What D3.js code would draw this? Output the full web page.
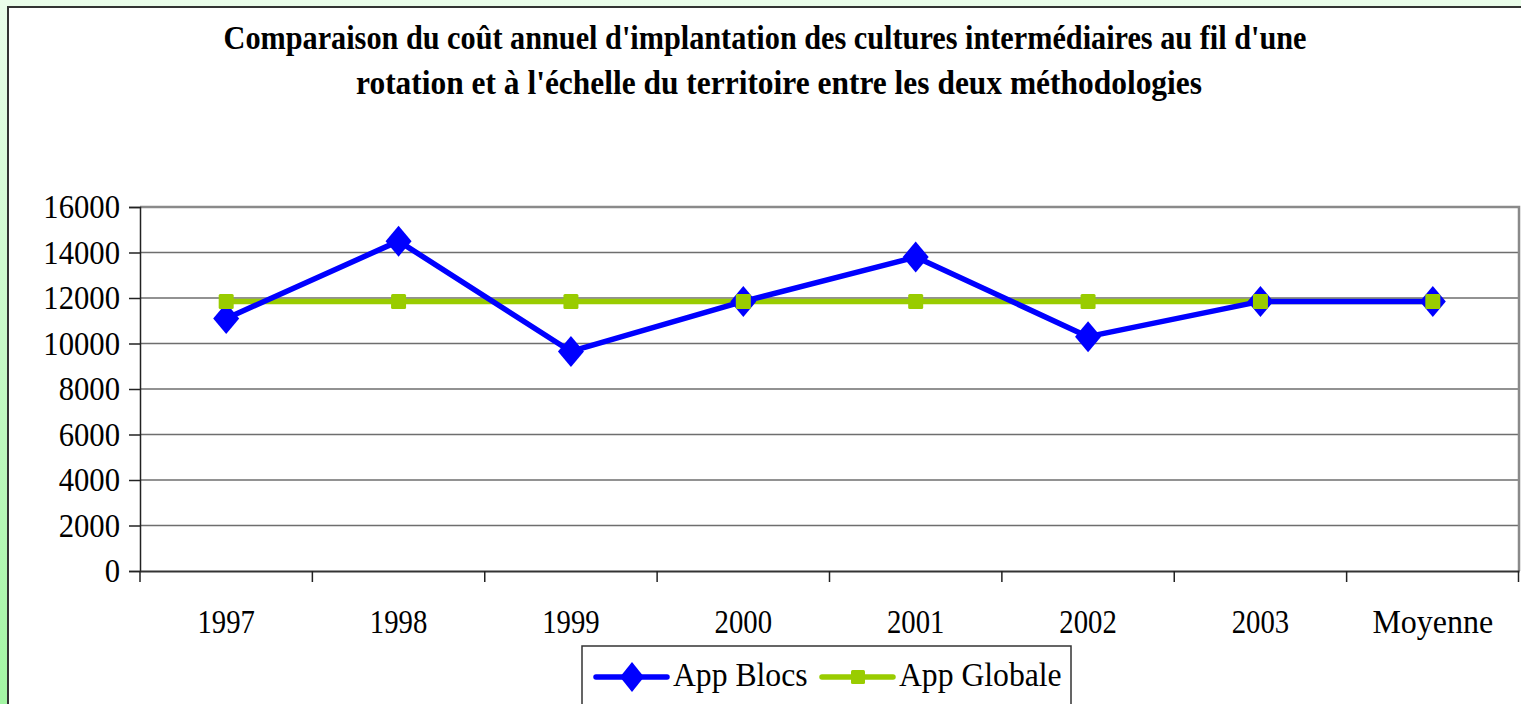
<!DOCTYPE html>
<html>
<head>
<meta charset="utf-8">
<script src="https://cdn.jsdelivr.net/npm/d3@7"></script>
<style>
  html, body { margin: 0; padding: 0; background: #fff; overflow: hidden; }
</style>
</head>
<body>
<div id="chart"></div>
<script>
// données
var annees = ["1997", "1998", "1999", "2000", "2001", "2002", "2003", "Moyenne"];
var appBlocs = [11100, 14500, 9650, 11850, 13800, 10300, 11850, 11850];
var appGlobale = [11850, 11850, 11850, 11850, 11850, 11850, 11850, 11850];
var yTicks = [0, 2000, 4000, 6000, 8000, 10000, 12000, 14000, 16000];
var titre = ["Comparaison du coût annuel d'implantation des cultures intermédiaires au fil d'une",
             "rotation et à l'échelle du territoire entre les deux méthodologies"];

var width = 1521, height = 704,
    margin = ({top: 207, right: 2, bottom: 133, left: 140});

var svg = d3.select("#chart").append("svg")
    .attr("width", width)
    .attr("height", height)
    .style("font-family", "'Liberation Serif', 'Times New Roman', serif");

var defs = svg.append("defs");
var grad = defs.append("linearGradient").attr("id", "fond")
    .attr("x1", 0).attr("y1", 0).attr("x2", 0).attr("y2", 1);
grad.append("stop").attr("offset", 0).attr("stop-color", "#eafdea");
grad.append("stop").attr("offset", 1).attr("stop-color", "#a3f5a3");

svg.append("rect").attr("width", width).attr("height", height).attr("fill", "url(#fond)");

// zone du graphique
svg.append("rect")
    .attr("x", 8).attr("y", 7)
    .attr("width", width + 20).attr("height", height + 20)
    .attr("fill", "#fff")
    .attr("stroke", "#333")
    .attr("stroke-width", 2);

// texte un peu écrasé horizontalement comme dans l'image
function txt(g, x, y, s, size, anchor, sx, weight) {
  return g.append("text")
      .attr("transform", "translate(" + x + "," + y + ") scale(" + sx + ",1)")
      .attr("font-size", size + "px")
      .attr("font-weight", weight || "normal")
      .attr("text-anchor", anchor || "middle")
      .attr("fill", "#000")
      .text(s);
}

txt(svg, 765, 49, titre[0], 34, "middle", 0.89, "bold");
txt(svg, 779, 94, titre[1], 34, "middle", 0.925, "bold");

var x = d3.scaleBand()
    .domain(annees)
    .range([margin.left, width - margin.right]);

var y = d3.scaleLinear()
    .domain([0, 16000])
    .range([height - margin.bottom, margin.top]);

var plot = svg.append("g");

// grille
plot.append("g")
  .selectAll("line")
  .data(yTicks.filter(d => d > 0 && d < 16000))
  .join("line")
    .attr("x1", margin.left).attr("x2", width - margin.right)
    .attr("y1", d => y(d)).attr("y2", d => y(d))
    .attr("stroke", "#6e6e6e")
    .attr("stroke-width", 1.5);

// cadre haut / droite
plot.append("path")
    .attr("d", "M" + margin.left + "," + y(16000) + "H" + (width - margin.right) + "V" + y(0))
    .attr("fill", "none")
    .attr("stroke", "#8a8a8a")
    .attr("stroke-width", 2.5);

// axe y
var yAxis = g => g
    .attr("transform", "translate(" + margin.left + ",0)")
    .call(d3.axisLeft(y).tickValues(yTicks).tickSize(11).tickFormat(""))
    .call(g => g.selectAll("line, path").attr("stroke", "#222").attr("stroke-width", 1.5));
plot.append("g").call(yAxis);

yTicks.forEach(function(d) {
  txt(plot, 120, y(d) + 11, d, 33, "end", 0.93);
});

// axe x
var xAxis = g => g
    .attr("transform", "translate(0," + y(0) + ")")
    .call(d3.axisBottom(x).tickSize(0).tickFormat(""))
    .call(g => g.select(".domain").attr("stroke", "#333").attr("stroke-width", 2));
plot.append("g").call(xAxis);

var bornes = annees.map(d => x(d)).concat([x.range()[1] - 0.5]);
plot.append("g")
  .selectAll("line")
  .data(bornes)
  .join("line")
    .attr("x1", d => d).attr("x2", d => d)
    .attr("y1", y(0)).attr("y2", y(0) + 11)
    .attr("stroke", "#222")
    .attr("stroke-width", 1.5);

annees.forEach(function(d) {
  var lettres = isNaN(+d);
  txt(plot, x(d) + x.bandwidth() / 2, 633, d, 33, "middle", lettres ? 0.97 : 0.87);
});

var cx = d => x(d) + x.bandwidth() / 2;

var line = d3.line()
    .x((d, i) => cx(annees[i]))
    .y(d => y(d));

var diamond = (w, h) => "M0," + (-h) + "L" + w + ",0L0," + h + "L" + (-w) + ",0Z";

// App Globale
plot.append("path")
    .datum(appGlobale)
    .attr("fill", "none")
    .attr("stroke", "#99cc00")
    .attr("stroke-width", 5.5)
    .attr("d", line);

// App Blocs
plot.append("path")
    .datum(appBlocs)
    .attr("fill", "none")
    .attr("stroke", "#0000ff")
    .attr("stroke-width", 5.5)
    .attr("stroke-linejoin", "round")
    .attr("d", line);

plot.append("g")
  .selectAll("path")
  .data(appBlocs)
  .join("path")
    .attr("transform", (d, i) => "translate(" + cx(annees[i]) + "," + y(d) + ")")
    .attr("d", diamond(13, 15.5))
    .attr("fill", "#0000ff");

plot.append("g")
  .selectAll("rect")
  .data(appGlobale)
  .join("rect")
    .attr("x", (d, i) => cx(annees[i]) - 7.5)
    .attr("y", d => y(d) - 7.5)
    .attr("width", 15).attr("height", 15)
    .attr("rx", 1.5)
    .attr("fill", "#99cc00");

// légende
var leg = svg.append("g");
leg.append("rect")
    .attr("x", 582).attr("y", 646)
    .attr("width", 489).attr("height", 80)
    .attr("fill", "#fff")
    .attr("stroke", "#333")
    .attr("stroke-width", 1.5);

var items = [
  {nom: "App Blocs", couleur: "#0000ff", x0: 596, forme: "diamant"},
  {nom: "App Globale", couleur: "#99cc00", x0: 822, forme: "carre"}
];
items.forEach(function(it) {
  leg.append("line")
      .attr("x1", it.x0).attr("x2", it.x0 + 71)
      .attr("y1", 677).attr("y2", 677)
      .attr("stroke", it.couleur)
      .attr("stroke-width", 5.5)
      .attr("stroke-linecap", "round");
  if (it.forme == "diamant") {
    leg.append("path")
        .attr("transform", "translate(" + (it.x0 + 36) + ",677)")
        .attr("d", diamond(12, 15))
        .attr("fill", it.couleur);
  } else {
    leg.append("rect")
        .attr("x", it.x0 + 29).attr("y", 670)
        .attr("width", 14).attr("height", 14)
        .attr("rx", 1.5)
        .attr("fill", it.couleur);
  }
  txt(leg, it.x0 + 77, 686, it.nom, 33, "start", 0.96);
});
</script>
</body>
</html>
